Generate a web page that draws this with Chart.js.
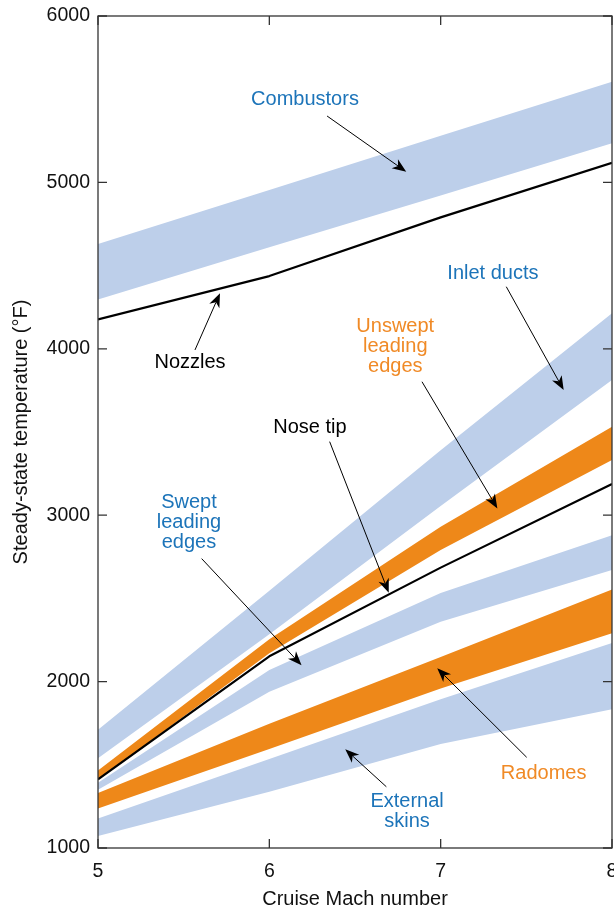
<!DOCTYPE html>
<html>
<head>
<meta charset="utf-8">
<script src="https://cdn.jsdelivr.net/npm/chart.js@4.4.1/dist/chart.umd.min.js"></script>
<style>
  html, body { margin: 0; padding: 0; background: #ffffff; }
  #wrap { width: 614px; height: 912px; }
</style>
</head>
<body>
<div id="wrap"><canvas id="c" width="614" height="912"></canvas></div>
<script>
// ---------- data ----------
const mach = [5, 6, 7, 8];
const yTicks = [1000, 2000, 3000, 4000, 5000, 6000];
const xTicks = [5, 6, 7, 8];

const combustorsHigh = [4630, 4955, 5280, 5605];
const combustorsLow  = [4297, 4610, 4922, 5235];
const nozzles        = [4177, 4437, 4790, 5118];
const inletHigh      = [1710, 2546, 3390, 4213];
const inletLow       = [1540, 2285, 3055, 3812];
const unsweptHigh    = [1466, 2255, 2931, 3532];
const unsweptLow     = [1410, 2170, 2791, 3332];
const noseTip        = [1413, 2152, 2685, 3188];
const sweptHigh      = [1392, 2070, 2533, 2880];
const sweptLow       = [1350, 1939, 2360, 2670];
const radomesHigh    = [1330, 1747, 2148, 2554];
const radomesLow     = [1238, 1595, 1958, 2290];
const skinsHigh      = [1178, 1535, 1894, 2232];
const skinsLow       = [1072, 1338, 1625, 1834];

// ---------- styles ----------
const BLUE_FILL = '#bdcfea';
const ORANGE_FILL = '#ee8819';
const BLUE_TEXT = '#1c74b9';
const ORANGE_TEXT = '#f08a26';
const FONT = '"Liberation Sans", Arial, Helvetica, sans-serif';
const FS = 19.5;
const LFS = 20;

const pts = arr => arr.map((v, i) => ({ x: mach[i], y: v }));

function band(high, low, color, label) {
  return [
    { label: label + ' high', data: pts(high), fill: '+1', backgroundColor: color,
      borderWidth: 0, pointRadius: 0, tension: 0 },
    { label: label + ' low', data: pts(low), fill: false, backgroundColor: color,
      borderWidth: 0, pointRadius: 0, tension: 0 }
  ];
}
function line(vals, label) {
  return { label, data: pts(vals), fill: false, borderColor: '#000', borderWidth: 2.2,
    pointRadius: 0, tension: 0, borderJoinStyle: 'round', borderCapStyle: 'butt' };
}

const datasets = [
  line(nozzles, 'Nozzles'),
  line(noseTip, 'Nose tip'),
  ...band(unsweptHigh, unsweptLow, ORANGE_FILL, 'Unswept leading edges'),
  ...band(radomesHigh, radomesLow, ORANGE_FILL, 'Radomes'),
  ...band(combustorsHigh, combustorsLow, BLUE_FILL, 'Combustors'),
  ...band(inletHigh, inletLow, BLUE_FILL, 'Inlet ducts'),
  ...band(sweptHigh, sweptLow, BLUE_FILL, 'Swept leading edges'),
  ...band(skinsHigh, skinsLow, BLUE_FILL, 'External skins'),
];

// annotation labels (data coordinates) and arrows
const labels = [
  { lines: ['Combustors'], x: 6.208, y: 5499, color: BLUE_TEXT },
  { lines: ['Nozzles'], x: 5.537, y: 3915, color: '#000' },
  { lines: ['Inlet ducts'], x: 7.305, y: 4454, color: BLUE_TEXT },
  { lines: ['Unswept', 'leading', 'edges'], x: 6.735, y: 4133, color: ORANGE_TEXT },
  { lines: ['Nose tip'], x: 6.237, y: 3530, color: '#000' },
  { lines: ['Swept', 'leading', 'edges'], x: 5.531, y: 3075, color: BLUE_TEXT },
  { lines: ['Radomes'], x: 7.601, y: 1449, color: ORANGE_TEXT },
  { lines: ['External', 'skins'], x: 6.804, y: 1282, color: BLUE_TEXT },
];
const arrows = [
  { from: [6.337, 5399], to: [6.799, 5064] },
  { from: [5.566, 3993], to: [5.712, 4334] },
  { from: [7.383, 4373], to: [7.718, 3752] },
  { from: [6.891, 3802], to: [7.331, 3041] },
  { from: [6.352, 3442], to: [6.697, 2534] },
  { from: [5.605, 2739], to: [6.188, 2098] },
  { from: [7.502, 1545], to: [6.980, 2080] },
  { from: [6.683, 1368], to: [6.443, 1593] },
];

const decorPlugin = {
  id: 'decor',
  afterDraw(chart) {
    const { ctx, chartArea: a, scales: { x, y } } = chart;
    ctx.save();
    // frame
    ctx.strokeStyle = '#333';
    ctx.lineWidth = 1.3;
    ctx.strokeRect(a.left, a.top, a.right - a.left, a.bottom - a.top);
    // inward ticks
    const TL = 9;
    ctx.beginPath();
    xTicks.forEach(v => {
      const px = x.getPixelForValue(v);
      ctx.moveTo(px, a.bottom); ctx.lineTo(px, a.bottom - TL);
      ctx.moveTo(px, a.top); ctx.lineTo(px, a.top + TL);
    });
    yTicks.forEach(v => {
      const py = y.getPixelForValue(v);
      ctx.moveTo(a.left, py); ctx.lineTo(a.left + TL, py);
      ctx.moveTo(a.right, py); ctx.lineTo(a.right - TL, py);
    });
    ctx.stroke();

    // arrows
    ctx.strokeStyle = '#000';
    ctx.fillStyle = '#000';
    arrows.forEach(ar => {
      const x1 = x.getPixelForValue(ar.from[0]), y1 = y.getPixelForValue(ar.from[1]);
      const x2 = x.getPixelForValue(ar.to[0]), y2 = y.getPixelForValue(ar.to[1]);
      const ang = Math.atan2(y2 - y1, x2 - x1);
      const L = 14, W = 5.5, N = 10;
      ctx.lineWidth = 1;
      ctx.beginPath();
      ctx.moveTo(x1, y1);
      ctx.lineTo(x2 - Math.cos(ang) * N, y2 - Math.sin(ang) * N);
      ctx.stroke();
      ctx.save();
      ctx.translate(x2, y2);
      ctx.rotate(ang);
      ctx.beginPath();
      ctx.moveTo(0, 0);
      ctx.lineTo(-L, -W);
      ctx.lineTo(-N, 0);
      ctx.lineTo(-L, W);
      ctx.closePath();
      ctx.fill();
      ctx.restore();
    });

    // labels
    ctx.font = LFS + 'px ' + FONT;
    ctx.textAlign = 'center';
    ctx.textBaseline = 'middle';
    labels.forEach(lb => {
      const px = x.getPixelForValue(lb.x);
      const py = y.getPixelForValue(lb.y);
      ctx.fillStyle = lb.color;
      lb.lines.forEach((t, i) => ctx.fillText(t, px, py + i * 20));
    });
    ctx.restore();
  }
};

new Chart(document.getElementById('c'), {
  type: 'line',
  data: { datasets },
  options: {
    responsive: false,
    animation: false,
    devicePixelRatio: 1,
    layout: { padding: { top: 16, right: 2, bottom: 0, left: 0 } },
    plugins: { legend: { display: false }, tooltip: { enabled: false }, filler: { propagate: false } },
    scales: {
      x: {
        type: 'linear', min: 5, max: 8,
        afterBuildTicks: s => { s.ticks = xTicks.map(v => ({ value: v })); },
        ticks: { color: '#111', font: { family: FONT, size: FS }, padding: 12, maxRotation: 0,
          callback: v => String(v) },
        grid: { display: false, drawTicks: false },
        border: { display: false },
        title: { display: true, text: 'Cruise Mach number', color: '#111',
          font: { family: FONT, size: LFS }, padding: { top: 0, bottom: 1 } },
        afterFit: s => { s.height = 64; s.paddingRight = 0; s.paddingLeft = 0; }
      },
      y: {
        type: 'linear', min: 1000, max: 6000,
        afterBuildTicks: s => { s.ticks = yTicks.map(v => ({ value: v })); },
        ticks: { color: '#111', font: { family: FONT, size: FS }, padding: 8,
          callback: v => String(v) },
        grid: { display: false, drawTicks: false },
        border: { display: false },
        title: { display: true, text: 'Steady-state temperature (°F)', color: '#111',
          font: { family: FONT, size: LFS }, padding: { top: 9, bottom: 0 } },
        afterFit: s => { s.width = 98; s.paddingTop = 0; s.paddingBottom = 0; }
      }
    }
  },
  plugins: [decorPlugin]
});
</script>
</body>
</html>
